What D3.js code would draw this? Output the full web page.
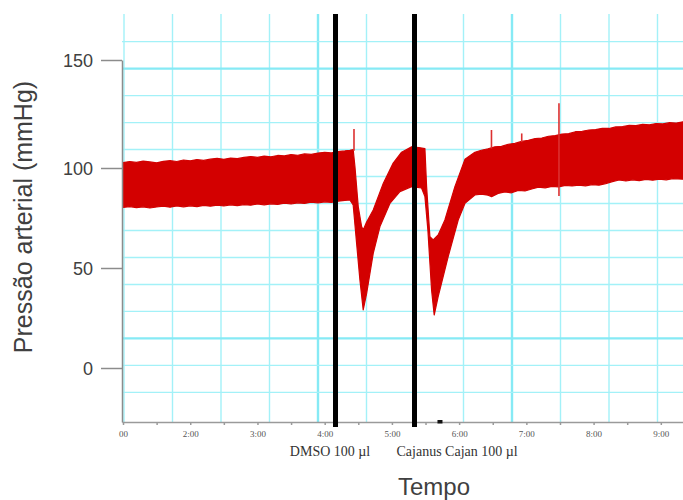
<!DOCTYPE html>
<meta charset="utf-8">
<style>
  body { margin: 0; background: #fff; }
  svg text { font-family: "Liberation Sans", Arial, sans-serif; }
  .grid line { stroke: #a3f1f8; stroke-width: 1.4; }
  .grid line.major { stroke: #86eaf5; stroke-width: 2.4; }
  .yaxis text { font-size: 18px; fill: #404040; }
  .yaxis path, .yaxis line { stroke: #8c8c8c; stroke-width: 1.5; }
  .xaxis text { font-family: "Liberation Serif", "Times New Roman", serif; font-size: 9px; fill: #555; }
  .xaxis path, .xaxis line { stroke: #9a9a9a; stroke-width: 1.5; }
  svg text.event-label { font-family: "Liberation Serif", "Times New Roman", serif; font-size: 14px; fill: #333; }
  .title { font-size: 24px; fill: #404040; }
  .ytitle { font-size: 25px; }
</style>
<body>
<script src="https://d3js.org/d3.v7.min.js"></script>
<script>

// upper and lower envelope of the pressure trace (time in min, mmHg)
var upperT = [1.00, 1.10, 1.20, 1.30, 1.40, 1.50, 1.60, 1.70, 1.80, 1.90, 2.00, 2.10, 2.20, 2.30, 2.40, 2.50,
  2.60, 2.70, 2.80, 2.90, 3.00, 3.10, 3.20, 3.30, 3.40, 3.50, 3.60, 3.70, 3.80, 3.90, 4.00, 4.10, 4.20, 4.30,
  4.375, 4.424,
  4.45, 4.499, 4.549, 4.573, 4.624, 4.722, 4.871, 5.019, 5.144, 5.293, 5.40, 5.491,
  5.516, 5.565, 5.614, 5.688, 5.788, 5.937, 6.086, 6.234,
  6.33, 6.43, 6.532, 6.63, 6.73, 6.83, 6.93, 7.03, 7.13, 7.23, 7.33, 7.43, 7.53, 7.63, 7.73, 7.83, 7.93,
  8.03, 8.13, 8.23, 8.33, 8.43, 8.53, 8.63, 8.73, 8.83, 8.93, 9.03, 9.13, 9.23, 9.33];
var upperV = [102.5, 103.0, 102.6, 103.2, 102.8, 102.4, 103.1, 103.4, 103.0, 103.7, 103.3, 103.9, 103.5, 104.1, 104.5, 104.0,
  104.6, 104.3, 104.9, 105.3, 104.9, 105.5, 105.2, 105.8, 105.6, 106.2, 105.9, 106.5, 106.3, 106.9, 107.3, 107.0, 107.6, 107.9,
  108.2, 108.5,
  100.7, 80.7, 70.7, 69.0, 73.0, 79.0, 92.3, 102.3, 107.3, 109.8, 109.5, 109.0,
  90.7, 65.7, 64.0, 66.5, 74.0, 90.7, 104.0, 107.3,
  108.2, 108.9, 109.8, 110.0, 111.0, 111.4, 112.3, 112.8, 113.6, 113.9, 114.7, 115.0, 115.7, 115.9, 116.8, 117.0, 117.6,
  117.8, 118.4, 118.3, 119.0, 119.2, 119.7, 119.6, 120.2, 120.0, 120.6, 120.4, 121.0, 120.8, 121.4];

var lowerT = [1.00, 1.10, 1.20, 1.30, 1.40, 1.50, 1.60, 1.70, 1.80, 1.90, 2.00, 2.10, 2.20, 2.30, 2.40, 2.50,
  2.60, 2.70, 2.80, 2.90, 3.00, 3.10, 3.20, 3.30, 3.40, 3.50, 3.60, 3.70, 3.80, 3.90, 4.00, 4.10, 4.20, 4.30,
  4.375, 4.424,
  4.475, 4.524, 4.573, 4.624, 4.722, 4.822, 4.97, 5.119, 5.293, 5.441, 5.491,
  5.535, 5.59, 5.629, 5.688, 5.837, 5.986, 6.086, 6.234,
  6.33, 6.43, 6.483, 6.58, 6.68, 6.78, 6.88, 6.98, 7.08, 7.18, 7.28, 7.38, 7.48, 7.58, 7.68, 7.78, 7.88,
  7.98, 8.08, 8.18, 8.28, 8.38, 8.48, 8.58, 8.68, 8.78, 8.88, 8.98, 9.08, 9.18, 9.33];
var lowerV = [80.3, 80.7, 80.2, 80.6, 80.0, 80.5, 80.9, 80.4, 81.0, 80.6, 81.1, 80.7, 81.3, 80.9, 81.4, 81.0,
  81.6, 81.2, 81.7, 81.4, 82.0, 81.6, 82.1, 81.8, 82.4, 82.0, 82.6, 82.3, 82.9, 82.5, 83.1, 82.8, 83.4, 83.8,
  84.0, 81.5,
  62.3, 44.0, 29.0, 37.3, 57.3, 70.7, 82.3, 88.2, 90.7, 90.0, 85.7,
  69.0, 39.0, 26.5, 35.7, 55.7, 74.0, 82.3, 86.5,
  86.9, 86.4, 85.7, 87.3, 88.0, 87.6, 88.8, 88.5, 89.5, 90.4, 90.1, 90.8, 90.6, 91.3, 91.0, 91.4, 91.1,
  91.7, 91.4, 92.2, 93.2, 94.0, 93.5, 94.1, 93.7, 94.3, 93.9, 94.4, 94.1, 94.7, 94.4];

// short artefact spikes
var spikeT = [4.436, 6.481, 6.931, 7.485];
var spikeTop = [118, 117.6, 116, 130];
var spikeBottom = [108, 109, 112, 86];

// injections
var eventT = [4.161, 5.336];
var eventLabelT = [4.08, 5.97];
var eventLabels = ['DMSO 100 µl', 'Cajanus Cajan 100 µl'];
var markT = [5.715];

// axes
var xTicks = [1, 1.5, 2, 2.5, 3, 3.5, 4, 4.5, 5, 5.5, 6, 6.5, 7, 7.5, 8, 8.5, 9];
var xLabels = { 1: '00', 2: '2:00', 3: '3:00', 4: '4:00', 5: '5:00', 6: '6:00', 7: '7:00', 8: '8:00', 9: '9:00' };
var yTicks = [0, 50, 100, 150];

// chart paper grid
var gridCols = d3.range(0, 12);
var gridRows = d3.range(1, 15);
var majorCols = [4, 8];
var majorRows = [2, 12];

var width = 683, height = 500;
var plotLeft = 122, plotRight = 683, plotTop = 14, plotBottom = 422;

var svg = d3.select('body').append('svg').attr('width', width).attr('height', height);

var x = d3.scaleLinear().domain([0.985, 9.33]).range([plotLeft, plotRight]);
var y = d3.scaleLinear().domain([-27, 0, 50, 100, 150]).range([plotBottom, 368, 268, 168, 60]);
var gx = d3.scaleLinear().domain([0, 11]).range([124, 657.5]);
var gy = d3.scaleLinear().domain([0, 15]).range([14.7, 419.3]);

svg.append('clipPath').attr('id', 'plot')
  .append('rect').attr('x', plotLeft).attr('y', plotTop)
  .attr('width', plotRight - plotLeft).attr('height', plotBottom - plotTop);

var grid = svg.append('g').attr('class', 'grid').attr('clip-path', 'url(#plot)');
grid.selectAll('line.v').data(gridCols).enter().append('line')
  .attr('class', function (d) { return majorCols.indexOf(d) >= 0 ? 'v major' : 'v'; })
  .attr('x1', gx).attr('x2', gx).attr('y1', plotTop).attr('y2', plotBottom);
grid.selectAll('line.h').data(gridRows).enter().append('line')
  .attr('class', function (d) { return majorRows.indexOf(d) >= 0 ? 'h major' : 'h'; })
  .attr('y1', gy).attr('y2', gy).attr('x1', plotLeft).attr('x2', plotRight);

// trace band
var band = upperT.map(function (t, i) { return [t, upperV[i]]; })
  .concat(lowerT.map(function (t, i) { return [t, lowerV[i]]; }).reverse());
var line = d3.line().x(function (d) { return x(d[0]); }).y(function (d) { return y(d[1]); });

var trace = svg.append('g').attr('clip-path', 'url(#plot)');
trace.append('path').datum(band)
  .attr('d', function (d) { return line(d) + 'Z'; })
  .attr('fill', '#d30000').attr('stroke', '#d30000').attr('stroke-width', 1.2).attr('stroke-linejoin', 'round');

trace.selectAll('line.spike').data(spikeT).enter().append('line')
  .attr('class', 'spike')
  .attr('x1', x).attr('x2', x)
  .attr('y1', function (d, i) { return y(spikeTop[i]); })
  .attr('y2', function (d, i) { return y(spikeBottom[i]); })
  .attr('stroke', '#dc3030').attr('stroke-width', 1.6);

// axes
svg.append('g').attr('class', 'yaxis')
  .attr('transform', 'translate(' + plotLeft + ',0)')
  .call(d3.axisLeft(y).tickValues(yTicks).tickSize(21).tickSizeOuter(0).tickPadding(8))
  .call(function (g) { g.selectAll('.tick text').attr('dy', '0.36em'); });

svg.append('g').attr('class', 'xaxis')
  .attr('transform', 'translate(0,' + plotBottom + ')')
  .call(d3.axisBottom(x).tickValues(xTicks).tickSize(3).tickSizeOuter(0).tickPadding(6)
    .tickFormat(function (d) { return xLabels[d] || ''; }));

// injection markers
svg.selectAll('rect.event').data(eventT).enter().append('rect')
  .attr('class', 'event')
  .attr('x', function (d) { return x(d) - 2.5; })
  .attr('y', plotTop).attr('width', 5).attr('height', 427 - plotTop)
  .attr('fill', '#000');

svg.selectAll('rect.mark').data(markT).enter().append('rect')
  .attr('class', 'mark')
  .attr('x', function (d) { return x(d) - 2.5; })
  .attr('y', plotBottom - 2).attr('width', 5).attr('height', 3.5)
  .attr('fill', '#111');

svg.selectAll('text.event-label').data(eventLabels).enter().append('text')
  .attr('class', 'event-label')
  .attr('x', function (d, i) { return x(eventLabelT[i]); })
  .attr('y', 456)
  .attr('text-anchor', 'middle')
  .text(function (d) { return d; });

// titles
svg.append('text').attr('class', 'title')
  .attr('x', 434).attr('y', 495)
  .attr('text-anchor', 'middle')
  .text('Tempo');

svg.append('text').attr('class', 'title ytitle')
  .attr('transform', 'translate(32,217) rotate(-90)')
  .attr('text-anchor', 'middle')
  .text('Pressão arterial (mmHg)');

</script>
</body>
</html>
